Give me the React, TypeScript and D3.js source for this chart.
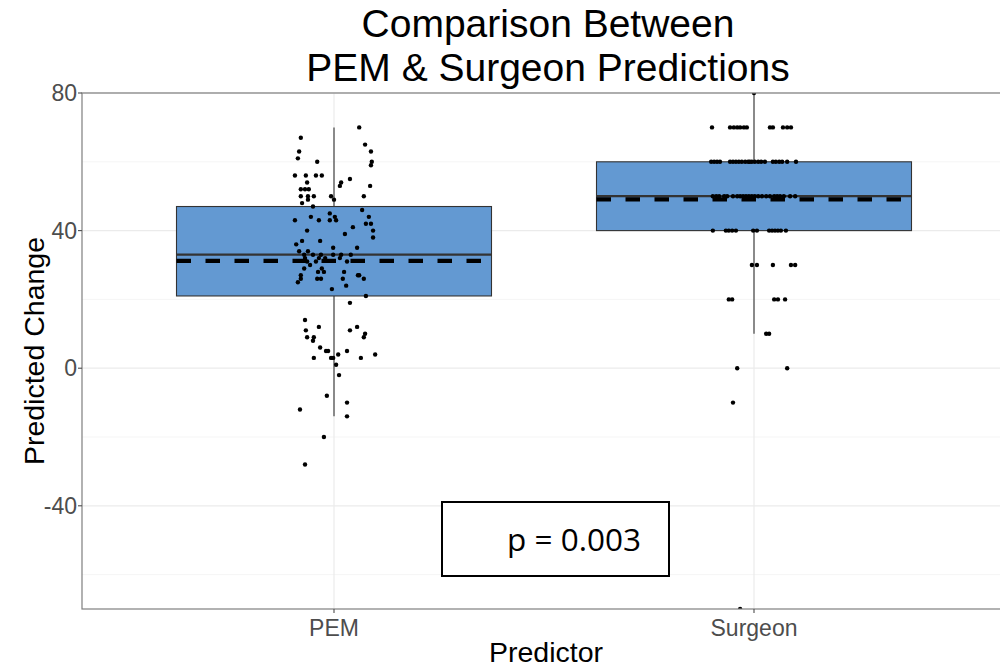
import React, { useEffect } from "react";
import * as d3 from "d3";

const categories = ["PEM", "Surgeon"];
const q1 = [21, 40];
const medians = [33, 50];
const q3 = [47, 60];
const whiskerLow = [-14, 10];
const whiskerHigh = [70, 80];
const means = [31.2, 49.1];
const yTicks = [-40, 0, 40, 80];
const yMinor = [-60, -20, 20, 60];
const pValueLabel = "p = 0.003";

// [value, jitter in thousandths of category spacing]
const pemPoints: [number, number][] = [
  [67, -79], [70, 60], [63, -83], [61, -86], [65, 74], [63, 88], [60, 90], [59, 88], [60, -40],
  [56, -93], [56, -67], [56, -43], [56, -29], [54, -64], [54, 17], [53, 14], [55, 38], [53, 86],
  [52, -79], [52, -69], [52, -60], [50, -79], [50, -62], [50, -48], [50, -7], [49, 0], [49, -62],
  [48, -76], [50, 71], [47, -50], [46, 67], [45, -10], [44, -55], [44, 2], [44, 83], [43, -93],
  [43, -36], [43, -10], [43, 5], [42, 76], [42, 88], [41, 45], [40, -64], [40, 93], [39, 26],
  [38, 93], [37, -76], [37, -33], [36, -90], [35, 55], [35, -2], [34, -83], [34, -62], [33, -71],
  [33, -50], [33, -31], [33, -2], [33, 17], [33, 40], [32, -69], [32, -36], [32, -21], [32, 14],
  [31, -43], [31, -64], [31, 31], [30, -57], [29, -71], [29, -29], [28, -38], [28, -24], [28, 24],
  [27, -79], [27, 57], [27, 60], [26, -79], [26, -40], [26, -31], [26, 21], [26, 71], [25, -86],
  [24, 29], [23, -5], [21, 76], [19, 38], [14, -69], [11, -67], [12, -36], [12, 55], [11, 38],
  [10, 74], [9, 71], [9, -64], [9, -48], [8, -50], [6, -33], [5, -19], [5, -14], [5, 31], [4, 10],
  [4, 98], [3, -48], [3, -7], [3, -2], [3, 64], [1, 5], [-2, 12], [-8, -17], [-10, 31], [-12, -81],
  [-14, 31], [-20, -24], [-28, -69],
];

const surgeonPoints: [number, number][] = [
  [80, 0],
  [70, -100], [70, -57], [70, -48], [70, -40], [70, -33], [70, -24], [70, -17], [70, 38], [70, 45],
  [70, 69], [70, 79], [70, 88],
  [60, -102], [60, -95], [60, -88], [60, -81], [60, -57], [60, -50], [60, -43], [60, -36], [60, -29],
  [60, -21], [60, -14], [60, -10], [60, -5], [60, 2], [60, 10], [60, 17], [60, 26], [60, 45], [60, 52],
  [60, 60], [60, 67], [60, 79], [60, 100],
  [50, -98], [50, -90], [50, -83], [50, -71], [50, -64], [50, -50], [50, -40], [50, -33], [50, -26],
  [50, -19], [50, -12], [50, -5], [50, 2], [50, 10], [50, 19], [50, 29], [50, 38], [50, 48], [50, 55],
  [50, 62], [50, 71], [50, 86], [50, 98],
  [40, -98], [40, -67], [40, -60], [40, -52], [40, -43], [40, -2], [40, 7], [40, 36], [40, 43], [40, 50],
  [40, 57], [40, 64], [40, 76],
  [30, -5], [30, 7], [30, 45], [30, 88], [30, 98],
  [20, -60], [20, -52], [20, 48], [20, 57], [20, 74],
  [10, 29], [10, 36],
  [0, -40], [0, 79],
  [-10, -50],
  [-70, -33],
];

const W = 1000;
const H = 672;
const panel = { left: 82, top: 93, right: 1006, bottom: 609 };

export default function App() {
  useEffect(() => {
    document.body.style.margin = "0";
  }, []);

  const x = d3.scalePoint<string>().domain(categories).range([panel.left, panel.right]).padding(0.6);
  const y = d3.scaleLinear().domain([-70, 80]).range([panel.bottom, panel.top]);
  const step = x.step();
  const boxW = step * 0.75;
  const font = "'Liberation Sans', Arial, sans-serif";
  const pointSets = [pemPoints, surgeonPoints];

  return (
    <svg width={W} height={H} style={{ display: "block", background: "#fff" }}>
      <defs>
        <clipPath id="panelClip">
          <rect x={panel.left} y={panel.top} width={panel.right - panel.left} height={panel.bottom - panel.top} />
        </clipPath>
      </defs>
      {/* title */}
      <text x={548} y={37} textAnchor="middle" fontFamily={font} fontSize={39} fill="#000">
        Comparison Between
      </text>
      <text x={548} y={81} textAnchor="middle" fontFamily={font} fontSize={39} fill="#000">
        PEM &amp; Surgeon Predictions
      </text>
      {/* grid */}
      <g>
        {yMinor.map((t) => (
          <line key={"mn" + t} x1={panel.left} x2={panel.right} y1={y(t)} y2={y(t)} stroke="#f2f2f2" strokeWidth={0.8} />
        ))}
        {yTicks.map((t) => (
          <line key={"mj" + t} x1={panel.left} x2={panel.right} y1={y(t)} y2={y(t)} stroke="#ebebeb" strokeWidth={1.2} />
        ))}
        {categories.map((c) => (
          <line key={"vx" + c} x1={x(c)} x2={x(c)} y1={panel.top} y2={panel.bottom} stroke="#ebebeb" strokeWidth={1.2} />
        ))}
      </g>
      <g clipPath="url(#panelClip)">
        {categories.map((c, i) => {
          const cx = x(c) as number;
          return (
            <g key={"box" + c}>
              <line x1={cx} x2={cx} y1={y(q3[i])} y2={y(whiskerHigh[i])} stroke="#333" strokeWidth={1.1} />
              <line x1={cx} x2={cx} y1={y(q1[i])} y2={y(whiskerLow[i])} stroke="#333" strokeWidth={1.1} />
              <rect
                x={cx - boxW / 2}
                y={y(q3[i])}
                width={boxW}
                height={y(q1[i]) - y(q3[i])}
                fill="#6399d2"
                stroke="#333"
                strokeWidth={1.1}
              />
              <line x1={cx - boxW / 2} x2={cx + boxW / 2} y1={y(medians[i])} y2={y(medians[i])} stroke="#333" strokeWidth={2.2} />
            </g>
          );
        })}
        {categories.map((c, i) => {
          const cx = x(c) as number;
          return (
            <g key={"pts" + c}>
              {pointSets[i].map(([v, j], k) => (
                <circle key={k} cx={cx + (j / 1000) * step} cy={y(v)} r={2.2} fill="#000" />
              ))}
            </g>
          );
        })}
        {categories.map((c, i) => {
          const cx = x(c) as number;
          return (
            <line
              key={"mean" + c}
              x1={cx - boxW / 2}
              x2={cx + boxW / 2}
              y1={y(means[i])}
              y2={y(means[i])}
              stroke="#000"
              strokeWidth={4.2}
              strokeDasharray="14.5 14.5"
            />
          );
        })}
      </g>
      {/* panel border */}
      <rect
        x={panel.left}
        y={panel.top}
        width={panel.right - panel.left}
        height={panel.bottom - panel.top}
        fill="none"
        stroke="#7f7f7f"
        strokeWidth={1.2}
      />
      {/* y axis */}
      <g>
        {yTicks.map((t) => (
          <g key={"yt" + t}>
            <line x1={panel.left - 4} x2={panel.left} y1={y(t)} y2={y(t)} stroke="#4d4d4d" strokeWidth={1.1} />
            <text x={panel.left - 5} y={y(t) + 8} textAnchor="end" fontFamily={font} fontSize={23} fill="#4d4d4d">
              {t}
            </text>
          </g>
        ))}
      </g>
      {/* x axis */}
      <g>
        {categories.map((c) => (
          <g key={"xt" + c}>
            <line x1={x(c)} x2={x(c)} y1={panel.bottom} y2={panel.bottom + 4} stroke="#4d4d4d" strokeWidth={1.1} />
            <text x={x(c)} y={panel.bottom + 27} textAnchor="middle" fontFamily={font} fontSize={23} fill="#4d4d4d">
              {c}
            </text>
          </g>
        ))}
      </g>
      <text x={546} y={662} textAnchor="middle" fontFamily={font} fontSize={28.5} fill="#000">
        Predictor
      </text>
      <text
        transform={`translate(44, ${(panel.top + panel.bottom) / 2}) rotate(-90)`}
        textAnchor="middle"
        fontFamily={font}
        fontSize={28.5}
        fill="#000"
      >
        Predicted Change
      </text>
      {/* p value box */}
      <rect x={442} y={502} width={227} height={74} fill="#fff" stroke="#000" strokeWidth={2} />
      <text x={507} y={551} fontFamily="'Open Sans', 'Noto Sans', sans-serif" fontSize={31.5} fill="#000">
        {pValueLabel}
      </text>
    </svg>
  );
}
